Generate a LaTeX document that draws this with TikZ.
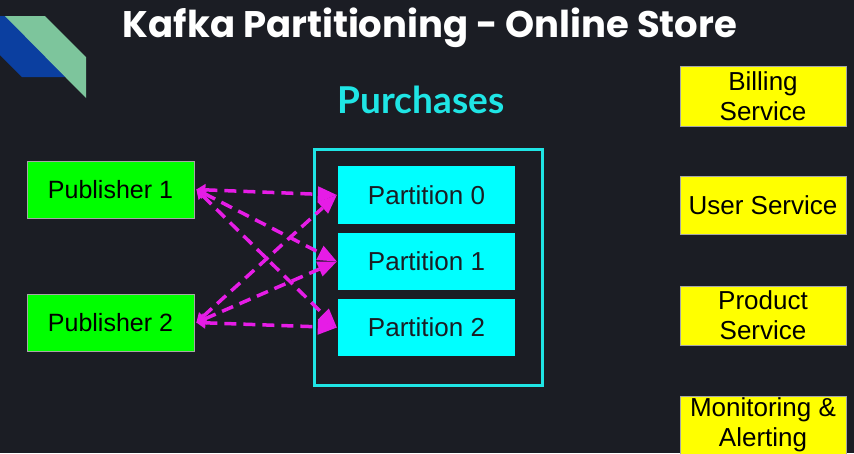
\documentclass[tikz,border=0pt]{standalone}
\usepackage{fontspec}
\setmainfont{Liberation Sans}
\newfontfamily\titlefont{Poppins}
\newfontfamily\topicfont{Lato}
\usetikzlibrary{arrows.meta}

\definecolor{bgdark}{HTML}{1B1D24}
\definecolor{topiccyan}{HTML}{1FE5E5}
\definecolor{partcyan}{HTML}{00FFFF}
\definecolor{pubgreen}{HTML}{00FF00}
\definecolor{svcyellow}{HTML}{FFFF00}
\definecolor{flowpink}{HTML}{E61CE6}
\definecolor{logoblue}{HTML}{0B3FA0}
\definecolor{logogreen}{HTML}{7DC59C}

\begin{document}
\begin{tikzpicture}[x=1pt, y=-1pt,
  boxtext/.style={font=\fontsize{26}{30}\selectfont, align=center, inner sep=0pt},
  pubbox/.style={boxtext, font=\fontsize{25}{30}\selectfont, draw=gray!70,
    line width=0.8pt, fill=pubgreen, minimum width=167pt, minimum height=57pt},
  partbox/.style={boxtext, fill=partcyan, text=bgdark,
    minimum width=177pt, minimum height=57pt},
  svcbox/.style={boxtext, draw=gray!70, line width=0.8pt, fill=svcyellow,
    minimum width=166pt, minimum height=59pt},
  flow/.style={flowpink, line width=3.5pt, dash pattern=on 12pt off 7pt,
    {Triangle[length=9pt, width=12pt, line width=0pt]}-{Triangle[length=19pt, width=16pt, line width=0pt]}}]

  % background
  \useasboundingbox (0,0) rectangle (854,453);
  \fill[bgdark] (0,0) rectangle (854,453);

  % logo
  \fill[logoblue] (-5,16) -- (12,16) -- (73,77) -- (22,77) -- (-5,50) -- cycle;
  \fill[logogreen] (5,16) -- (45,16) -- (86,57) -- (86,98) -- cycle;

  % titles
  \node[text=white, font=\titlefont\bfseries\fontsize{37}{40}\selectfont]
    (title) at (430,28) {Kafka Partitioning - Online Store};
  \node[text=topiccyan, font=\topicfont\bfseries\fontsize{37}{40}\selectfont]
    (topicname) at (421,100) {Purchases};

  % topic with partitions
  \node[draw=topiccyan, line width=3pt, minimum width=228pt,
    minimum height=236pt] (topic) at (428,267) {};
  \node[partbox, minimum height=58pt] (part0) at (426.5,195) {Partition 0};
  \node[partbox] (part1) at (426.5,261.5) {Partition 1};
  \node[partbox] (part2) at (426.5,327.5) {Partition 2};

  % publishers
  \node[pubbox] (pub1) at (110.5,189.5) {Publisher 1};
  \node[pubbox] (pub2) at (110.5,322.5) {Publisher 2};

  % services
  \node[svcbox, minimum height=60pt] (billing) at (763,96) {Billing\\Service};
  \node[svcbox, minimum height=58pt] (users) at (763,205) {User Service};
  \node[svcbox] (products) at (763,315.5) {Product\\Service};
  \node[svcbox, minimum height=58pt] (monitoring) at (763,425)
    {Monitoring \&\\Alerting};

  % publisher to partition flows
  \foreach \p in {pub1, pub2} {
    \foreach \q in {part0, part1, part2} {
      \draw[flow] ([xshift=2pt]\p.east) -- ([xshift=-1pt]\q.west);
    }
  }
\end{tikzpicture}
\end{document}
